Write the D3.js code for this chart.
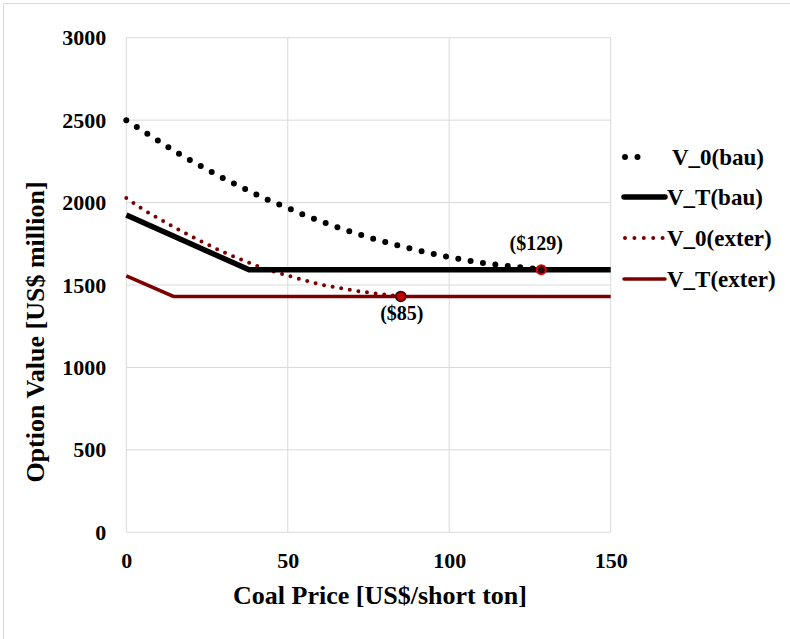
<!DOCTYPE html>
<html><head><meta charset="utf-8">
<script src="https://cdn.jsdelivr.net/npm/d3@7"></script>
<style>body{margin:0;background:#fff}svg{display:block}text{font-family:"Liberation Serif","Times New Roman",serif;font-weight:bold;fill:#000}</style>
</head><body>
<script>
// ---- data ----
const xTicks = [0, 50, 100, 150];
const yTicks = [0, 500, 1000, 1500, 2000, 2500, 3000];
const v0bauX = [0,5,10,15,20,25,30,35,40,45,50,55,60,65,70,75,80,85,90,95,100,105,110,115,120,125,128.5];
const v0bauY = [2500,2437,2374,2311,2255,2200,2148,2099,2052,2005,1968,1925,1888,1852,1820,1789,1762,1735,1712,1689,1669,1651,1635,1622,1611,1601,1595];
const vTbauX = [0, 38, 150];
const vTbauY = [1925, 1592, 1592];
const v0extX = [0,5,10,15,20,25,30,35,40,45,50,55,60,65,70,75,80,85];
const v0extY = [2028,1960,1903,1848,1796,1747,1700,1659,1619,1585,1557,1530,1503,1485,1468,1454,1442,1431];
const vTextX = [0, 14.6, 150];
const vTextY = [1555, 1431, 1431];
const markerX = [128.5, 85];
const markerY = [1593, 1431];
const markerLabels = ["($129)", "($85)"];
const seriesNames = ["V_0(bau)", "V_T(bau)", "V_0(exter)", "V_T(exter)"];

const W = 790, H = 639;
const svg = d3.select("body").append("svg").attr("width", W).attr("height", H);
svg.append("path").attr("d", `M3.5,${H}V3.5H${W}`).attr("fill","none").attr("stroke","#d9d9d9").attr("stroke-width",1);

const x = d3.scaleLinear().domain([0,150]).range([126.3, 610.7]);
const y = d3.scaleLinear().domain([0,3000]).range([532.3, 37.7]);

const grid = svg.append("g");
grid.selectAll(".gx").data(xTicks).join("line")
  .attr("x1", d=>x(d)).attr("x2", d=>x(d)).attr("y1", y(0)).attr("y2", y(3000))
  .attr("stroke","#d9d9d9").attr("stroke-width",1);
grid.selectAll(".gy").data(yTicks).join("line")
  .attr("x1", x(0)).attr("x2", x(150)).attr("y1", d=>y(d)).attr("y2", d=>y(d))
  .attr("stroke","#d9d9d9").attr("stroke-width",1);

const fmt = d3.format("d");
const xa = svg.append("g").attr("transform",`translate(0,${y(0)})`)
  .call(d3.axisBottom(x).tickValues(xTicks).tickFormat(fmt).tickSize(0).tickPadding(20));
xa.select(".domain").remove();
xa.selectAll("text").style("font-size","22px").attr("font-family",null);
const ya = svg.append("g").attr("transform",`translate(${x(0)},0)`)
  .call(d3.axisLeft(y).tickValues(yTicks).tickFormat(fmt).tickSize(0).tickPadding(20));
ya.select(".domain").remove();
ya.selectAll("text").style("font-size","22px").attr("font-family",null);

svg.append("text").attr("x", 380).attr("y", 604).attr("text-anchor","middle")
  .style("font-size","26px").text("Coal Price [US$/short ton]");
svg.append("text").attr("transform","translate(44,332) rotate(-90)").attr("text-anchor","middle")
  .style("font-size","26px").text("Option Value [US$ million]");

const line = d3.line().x(d=>x(d[0])).y(d=>y(d[1]));
const zip = (a,b)=>a.map((v,i)=>[v,b[i]]);
const dark = "#7b0000";

svg.append("path").datum(zip(vTextX,vTextY)).attr("d",line)
  .attr("fill","none").attr("stroke",dark).attr("stroke-width",3.5);
svg.append("path").datum(zip(v0extX,v0extY)).attr("d",line)
  .attr("fill","none").attr("stroke",dark).attr("stroke-width",4)
  .attr("stroke-dasharray","0 8.7").attr("stroke-linecap","round");
svg.append("path").datum(zip(vTbauX,vTbauY)).attr("d",line)
  .attr("fill","none").attr("stroke","#000").attr("stroke-width",5.5);
svg.append("path").datum(zip(v0bauX,v0bauY)).attr("d",line)
  .attr("fill","none").attr("stroke","#000").attr("stroke-width",6)
  .attr("stroke-dasharray","0 12.5").attr("stroke-linecap","round");

// markers
svg.append("circle").attr("cx",x(markerX[0])).attr("cy",y(markerY[0])).attr("r",4.5)
  .attr("fill","#2a0000").attr("stroke","#e00000").attr("stroke-width",2);
svg.append("circle").attr("cx",x(markerX[1])).attr("cy",y(markerY[1])).attr("r",5)
  .attr("fill","#c00000").attr("stroke","#3a0000").attr("stroke-width",1.5);
svg.append("text").attr("x",x(markerX[0])-5).attr("y",y(markerY[0])-20).attr("text-anchor","middle")
  .style("font-size","20px").text(markerLabels[0]);
svg.append("text").attr("x",x(markerX[1])+1).attr("y",y(markerY[1])+24).attr("text-anchor","middle")
  .style("font-size","20px").text(markerLabels[1]);

// legend
const ly = [157, 197, 238, 279];
const lg = svg.append("g");
lg.append("line").attr("x1",625).attr("x2",650).attr("y1",ly[0]).attr("y2",ly[0])
  .attr("stroke","#000").attr("stroke-width",6).attr("stroke-dasharray","0 12.5").attr("stroke-linecap","round");
lg.append("line").attr("x1",624).attr("x2",665).attr("y1",ly[1]).attr("y2",ly[1])
  .attr("stroke","#000").attr("stroke-width",5.5).attr("stroke-linecap","round");
lg.append("line").attr("x1",625).attr("x2",663).attr("y1",ly[2]).attr("y2",ly[2])
  .attr("stroke",dark).attr("stroke-width",4).attr("stroke-dasharray","0 9.4").attr("stroke-linecap","round");
lg.append("line").attr("x1",624).attr("x2",665).attr("y1",ly[3]).attr("y2",ly[3])
  .attr("stroke",dark).attr("stroke-width",3.5).attr("stroke-linecap","round");
const lx = [672, 667, 667, 667];
lg.selectAll("text").data(seriesNames).join("text")
  .attr("x",(d,i)=>lx[i]).attr("y",(d,i)=>ly[i]+8).style("font-size","23px").text(d=>d);
</script>
</body></html>
